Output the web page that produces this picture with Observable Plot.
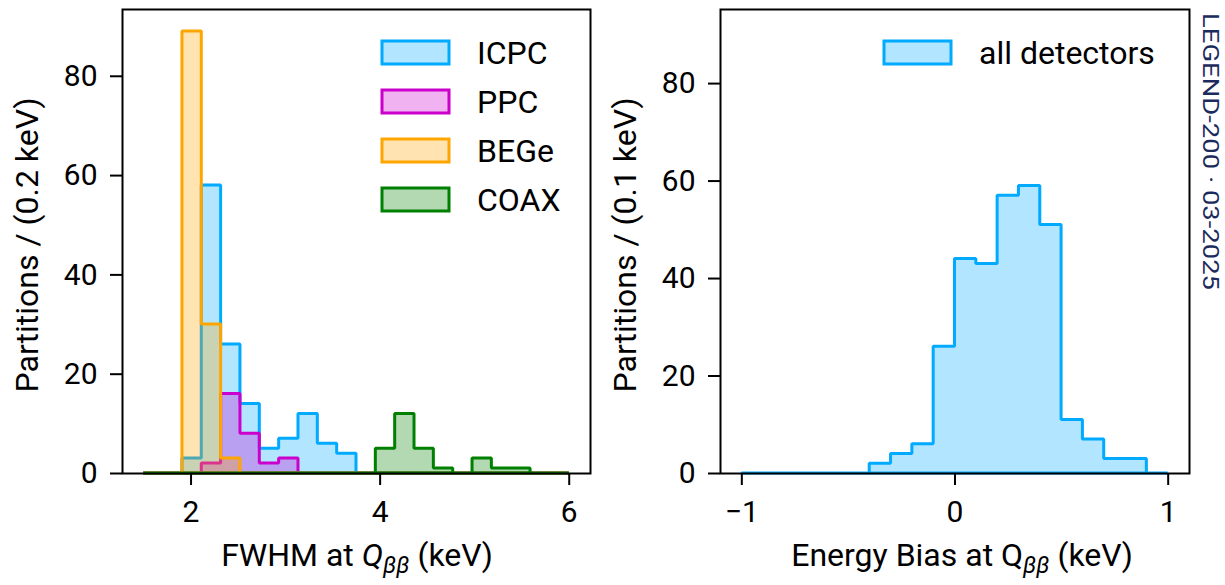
<!DOCTYPE html>
<html>
<head>
<meta charset="utf-8">
<script src="https://cdn.jsdelivr.net/npm/d3@7"></script>
<script src="https://cdn.jsdelivr.net/npm/@observablehq/plot@0.6"></script>
<style>
  html, body { margin: 0; padding: 0; background: #fff; }
  #root { position: relative; width: 1225px; height: 585px; overflow: hidden; font-family: Roboto, sans-serif; }
  #root svg { position: absolute; top: 0; }
</style>
</head>
<body>
<div id="root"></div>
<script>
// ---------------- data ----------------
const fwhmEdges = [1.5, 1.7045, 1.9091, 2.1136, 2.3182, 2.5227, 2.7273, 2.9318, 3.1364, 3.3409, 3.5455,
                   3.75, 3.9545, 4.1591, 4.3636, 4.5682, 4.7727, 4.9773, 5.1818, 5.3864, 5.5909, 5.7955, 6.0];
const icpcCounts = [0, 0, 3, 58, 26, 14, 5, 7, 12, 6, 4, 0, 0, 0, 0, 0, 0, 0, 0, 0, 0, 0];
const ppcCounts  = [0, 0, 0, 2, 16, 8, 2, 3, 0, 0, 0, 0, 0, 0, 0, 0, 0, 0, 0, 0, 0, 0];
const begeCounts = [0, 0, 89, 30, 3, 0, 0, 0, 0, 0, 0, 0, 0, 0, 0, 0, 0, 0, 0, 0, 0, 0];
const coaxCounts = [0, 0, 0, 0, 0, 0, 0, 0, 0, 0, 0, 0, 5, 12, 5, 1, 0, 3, 1, 1, 0, 0];

const biasEdges  = [-1.0, -0.9, -0.8, -0.7, -0.6, -0.5, -0.4, -0.3, -0.2, -0.1, 0.0,
                    0.1, 0.2, 0.3, 0.4, 0.5, 0.6, 0.7, 0.8, 0.9, 1.0];
const biasCounts = [0, 0, 0, 0, 0, 0, 2, 4, 6, 26, 44, 43, 57, 59, 51, 11, 7, 3, 3, 0];

const detectorTypes = ["ICPC", "PPC", "BEGe", "COAX"];
const detectorColors = ["#00AAFF", "#CC00CC", "#FFA500", "#008000"];
const detectorCounts = [icpcCounts, ppcCounts, begeCounts, coaxCounts];
const allLabel = "all detectors";
const allColor = "#00AAFF";

const fwhmTicks = [2, 4, 6];
const biasTicks = [-1, 0, 1];
const yTicks = [0, 20, 40, 60, 80];

// ---------------- helpers ----------------
function steps(edges, counts) {
  const pts = counts.map((c, i) => ({x: edges[i], y: c}));
  pts.push({x: edges[edges.length - 1], y: counts[counts.length - 1]});
  return pts;
}
const FONT = "Roboto, sans-serif";
const root = document.getElementById("root");
const fmt = d3.format("d");

function histArea(edges, counts, color) {
  return Plot.areaY(steps(edges, counts), {
    x: "x", y: "y", curve: "step-after",
    fill: color, fillOpacity: 0.3, stroke: color, strokeWidth: 3, strokeLinejoin: "miter"
  });
}

function panel({width, marginLeft, marginRight, xDomain, yDomain, xTicks, marks}) {
  return Plot.plot({
    width, height: 585,
    marginTop: 9, marginBottom: 112, marginLeft, marginRight,
    style: {fontFamily: FONT, fontSize: "30px", color: "black", background: "white", overflow: "visible"},
    x: {domain: xDomain, label: null},
    y: {domain: yDomain, label: null},
    marks: [
      ...marks,
      Plot.axisX({ticks: xTicks, tickFormat: fmt, tickSize: 12, tickPadding: 15, strokeWidth: 2, label: null, fontSize: 30}),
      Plot.axisY({ticks: yTicks, tickFormat: fmt, tickSize: 12, tickPadding: 13, strokeWidth: 2, label: null, fontSize: 30}),
      Plot.frame({stroke: "black", strokeWidth: 2})
    ]
  });
}

function addLegend(svg, x, y0, items) {
  const g = d3.select(svg).append("g");
  items.forEach((it, i) => {
    const y = y0 + i * 49;
    g.append("rect").attr("x", x).attr("y", y).attr("width", 67).attr("height", 23)
      .attr("fill", it.color).attr("fill-opacity", 0.3)
      .attr("stroke", it.color).attr("stroke-width", 3);
    g.append("text").attr("x", x + 95).attr("y", y + 23)
      .attr("text-anchor", "start")
      .attr("font-family", FONT).attr("font-size", 32).attr("fill", "black").text(it.label);
  });
}

function addXLabel(svg, cx, y, parts) {
  const t = d3.select(svg).append("text").attr("x", cx).attr("y", y)
    .attr("text-anchor", "middle").attr("font-family", FONT).attr("font-size", 32).attr("fill", "black");
  parts.forEach(p => {
    const s = t.append("tspan").text(p.text);
    if (p.italic) s.attr("font-style", "italic");
    if (p.size) s.attr("font-size", p.size);
    if (p.dy) s.attr("dy", p.dy);
  });
}

function addYLabel(svg, x, cy, label) {
  d3.select(svg).append("text")
    .attr("transform", `translate(${x},${cy}) rotate(-90)`)
    .attr("text-anchor", "middle").attr("font-family", FONT).attr("font-size", 32).attr("fill", "black")
    .text(label);
}

// ---------------- left panel ----------------
const left = panel({
  width: 610, marginLeft: 122, marginRight: 20,
  xDomain: [1.275, 6.225], yDomain: [0, 93.45], xTicks: fwhmTicks,
  marks: detectorCounts.map((c, i) => histArea(fwhmEdges, c, detectorColors[i]))
});
left.style.left = "0px";
addLegend(left, 382, 41, detectorTypes.map((d, i) => ({label: d, color: detectorColors[i]})));
addXLabel(left, 357, 566, [
  {text: "FWHM at "}, {text: "Q", italic: true},
  {text: "ββ", italic: true, size: 23, dy: 7}, {text: " (keV)", dy: -7}
]);
addYLabel(left, 38, 245, "Partitions / (0.2 keV)");
root.appendChild(left);

// ---------------- right panel ----------------
const right = panel({
  width: 615, marginLeft: 110, marginRight: 36,
  xDomain: [-1.1, 1.1], yDomain: [0, 95.2], xTicks: biasTicks,
  marks: [histArea(biasEdges, biasCounts, allColor)]
});
right.style.left = "610px";
addLegend(right, 274, 41, [{label: allLabel, color: allColor}]);
addXLabel(right, 352, 566, [
  {text: "Energy Bias at Q"},
  {text: "ββ", italic: true, size: 23, dy: 7}, {text: " (keV)", dy: -7}
]);
addYLabel(right, 26, 245, "Partitions / (0.1 keV)");
root.appendChild(right);

// ---------------- watermark ----------------
const wm = d3.create("svg").attr("width", 1225).attr("height", 585)
  .style("left", "0px").style("pointer-events", "none");
wm.append("text")
  .attr("transform", "translate(1203,13) rotate(90)")
  .attr("font-family", FONT).attr("font-size", 22).attr("fill", "#1B2B5E")
  .attr("textLength", 277).attr("lengthAdjust", "spacingAndGlyphs")
  .text("LEGEND-200 · 03-2025");
root.appendChild(wm.node());
</script>
</body>
</html>
